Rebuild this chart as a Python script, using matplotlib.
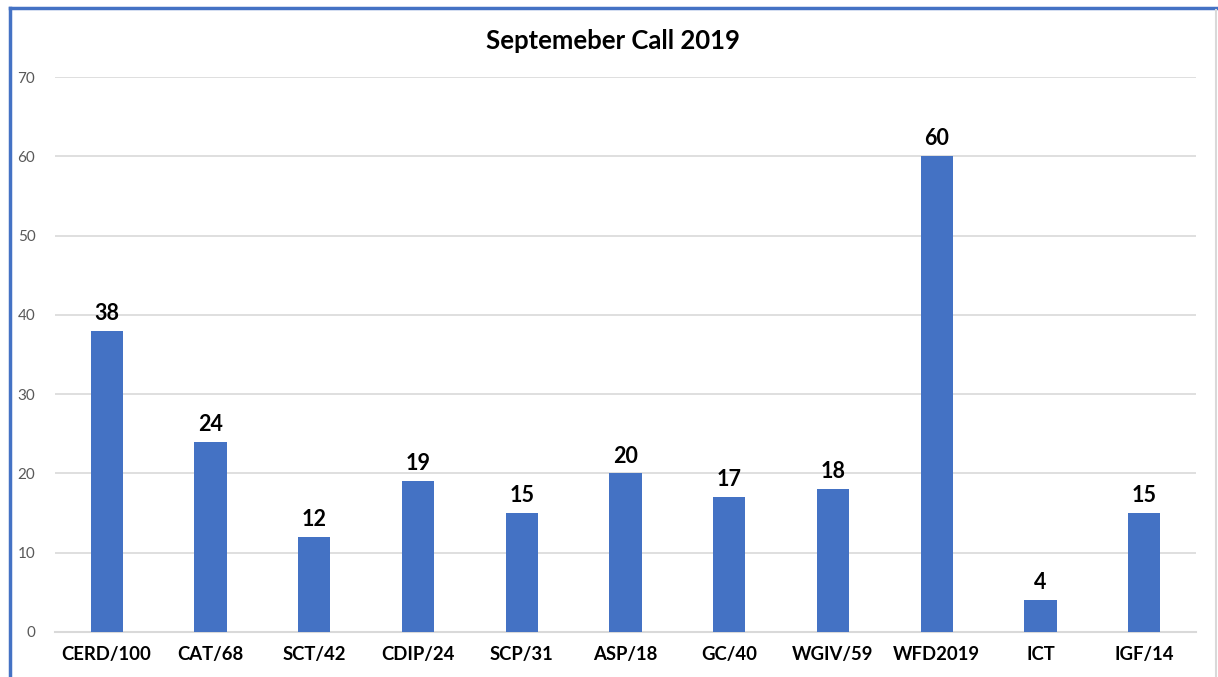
import matplotlib.pyplot as plt
from matplotlib.lines import Line2D

# Chart data
categories = ['CERD/100', 'CAT/68', 'SCT/42', 'CDIP/24', 'SCP/31', 'ASP/18',
              'GC/40', 'WGIV/59', 'WFD2019', 'ICT', 'IGF/14']
values = [38, 24, 12, 19, 15, 20, 17, 18, 60, 4, 15]
yticks = [0, 10, 20, 30, 40, 50, 60, 70]

plt.rcParams['font.family'] = ['Lato', 'DejaVu Sans']

fig = plt.figure(figsize=(12.18, 6.77), dpi=100)
ax = fig.add_axes([0.045, 0.0665, 0.937, 0.8195])

x = range(len(categories))
bars = ax.bar(x, values, width=0.31, color='#4472C4', zorder=3)

ax.set_xlim(-0.5, len(categories) - 0.5)
ax.set_ylim(0, 70)
ax.set_yticks(yticks)
ax.set_yticklabels([str(t) for t in yticks], color='#595959', fontsize=11)
ax.set_xticks(list(x))
ax.set_xticklabels(categories, fontsize=13.3, fontweight='bold', color='black')
ax.tick_params(axis='both', length=0)
ax.tick_params(axis='y', pad=14)
ax.tick_params(axis='x', pad=10)

ax.grid(axis='y', color='#D9D9D9', linewidth=1.2, zorder=0)
for side in ['top', 'right', 'left']:
    ax.spines[side].set_visible(False)
ax.spines['bottom'].set_color('#D9D9D9')
ax.spines['bottom'].set_linewidth(1.5)

# Value labels above bars
for i, v in enumerate(values):
    ax.annotate(str(v), (i, v), xytext=(0, 5), textcoords='offset points',
                ha='center', va='bottom', fontsize=15.5, fontweight='bold')

fig.text(0.503, 0.94, 'Septemeber Call 2019', ha='center', va='center',
         fontsize=18.5, fontweight='bold')

# Frame around the chart
fig.add_artist(Line2D([0.008, 0.008], [0.0, 0.988], color='#4472C4', linewidth=2.5, transform=fig.transFigure))
fig.add_artist(Line2D([0.008, 1.0], [0.988, 0.988], color='#4472C4', linewidth=2.5, transform=fig.transFigure))
fig.add_artist(Line2D([0.9985, 0.9985], [0.0, 0.985], color='#D9D9D9', linewidth=1.5, transform=fig.transFigure))

fig.savefig('out.png', dpi=100)
